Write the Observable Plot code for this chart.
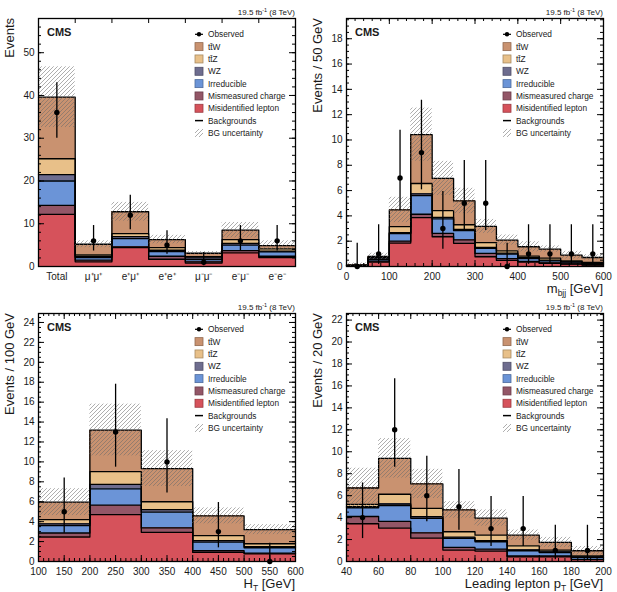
<!DOCTYPE html>
<html><head><meta charset="utf-8">
<script src="https://cdn.jsdelivr.net/npm/d3@7"></script>
<script src="https://cdn.jsdelivr.net/npm/@observablehq/plot@0.6"></script>
<style>
body{margin:0;background:#fff;font-family:"Liberation Sans",Arial,sans-serif;}
#root{position:relative;width:617px;height:592px;overflow:hidden;}
.panel{position:absolute;}
</style></head><body><div id="root"></div>
<script>
// ---------- shared ----------
const legendLabels = ["Observed","tt\u0304W","tt\u0304Z","WZ","Irreducible","Mismeasured charge","Misidentified lepton","Backgrounds","BG uncertainty"];
// stack order bottom -> top
const stackColors = ["#d6525b","#935667","#6b94d7","#6e6d8f","#e8c089","#c99270"];
const lumiText = ["19.5 fb","-1"," (8 TeV)"];
const expText = "CMS";

// ---------- panel 1: channels ----------
const chanLabels = ["Total","\u03bc\u207a\u03bc\u207a","e\u207a\u03bc\u207a","e\u207ae\u207a","\u03bc\u207b\u03bc\u207b","e\u207b\u03bc\u207b","e\u207be\u207b"];
const chanMisid  = [12.2, 1.1, 4.4, 1.7, 0.8, 3.2, 2.1];
const chanCharge = [2.1, 0.4, 0.2, 0.7, 0.3, 0.5, 0.3];
const chanIrred  = [5.7, 0.6, 1.9, 1.1, 0.5, 1.3, 1.0];
const chanWZ     = [1.5, 0.3, 0.5, 0.3, 0.4, 0.4, 0.2];
const chanTTZ    = [3.7, 0.3, 0.7, 0.6, 0.3, 0.9, 0.5];
const chanTTW    = [14.4, 2.5, 5.1, 1.9, 0.8, 2.2, 0.8];
const chanUnc    = [7.1, 0.8, 2.2, 1.0, 0.4, 1.8, 1.1];
const chanObs    = [36, 6, 12, 5, 1, 6, 6];
const chanObsLo  = [30.0, 3.62, 8.60, 2.84, 0.17, 3.62, 3.62];
const chanObsHi  = [43.0, 9.58, 16.65, 8.38, 3.30, 9.58, 9.58];

// ---------- panel 2: m_bjj ----------
const mbjjEdges  = [0,50,100,150,200,250,300,350,400,450,500,550,600];
const mbjjMisid  = [0.03,0.35,1.85,3.86,2.35,1.83,0.77,0.48,0.34,0.24,0.18,0.12];
const mbjjCharge = [0.01,0.08,0.15,0.27,0.27,0.27,0.26,0.14,0.06,0.04,0.02,0.02];
const mbjjIrred  = [0.02,0.12,0.60,1.47,1.14,0.73,0.40,0.36,0.23,0.17,0.14,0.10];
const mbjjWZ     = [0.01,0.05,0.07,0.14,0.13,0.10,0.07,0.07,0.07,0.05,0.03,0.03];
const mbjjTTZ    = [0.01,0.10,0.48,0.82,0.53,0.37,0.38,0.19,0.12,0.16,0.08,0.05];
const mbjjTTW    = [0.05,0.10,1.32,3.86,2.54,1.88,1.29,0.85,0.74,0.72,0.45,0.39];
const mbjjUnc    = [0.15,0.25,1.0,2.1,1.35,1.0,0.55,0.4,0.4,0.25,0.3,0.22];
const mbjjObs    = [0,1,7,9,3,5,5,0,1,1,1,1];
const mbjjObsLo  = [0,0.17,4.42,6.06,1.37,2.84,2.84,0,0.17,0.17,0.17,0.17];
const mbjjObsHi  = [1.84,3.30,10.77,13.14,5.92,8.38,8.38,1.84,3.30,3.30,3.30,3.30];

// ---------- panel 3: HT ----------
const htEdges  = [100,200,300,400,500,600];
const htMisid  = [2.46,4.71,2.93,0.91,0.77];
const htCharge = [0.40,0.95,0.44,0.17,0.07];
const htIrred  = [0.74,1.64,1.58,0.87,0.54];
const htWZ     = [0.17,0.44,0.25,0.15,0.10];
const htTTZ    = [0.43,1.28,0.80,0.50,0.30];
const htTTW    = [1.76,4.18,3.33,1.98,1.42];
const htUnc    = [1.35,2.6,1.8,0.8,0.5];
const htObs    = [5,13,10,3,0];
const htObsLo  = [2.84,9.47,6.89,1.37,0];
const htObsHi  = [8.38,17.80,14.33,5.92,1.84];

// ---------- panel 4: leading lepton pT ----------
const ptEdges  = [40,60,80,100,120,140,160,180,200];
const ptMisid  = [3.44,3.05,2.13,1.04,0.95,0.43,0.43,0.18];
const ptCharge = [0.66,0.61,0.47,0.24,0.18,0.07,0.07,0.02];
const ptIrred  = [0.80,1.44,1.33,0.82,0.67,0.48,0.32,0.17];
const ptWZ     = [0.10,0.14,0.15,0.12,0.10,0.07,0.06,0.05];
const ptTTZ    = [0.20,0.89,0.77,0.49,0.50,0.38,0.16,0.10];
const ptTTW    = [1.50,3.27,2.22,1.99,1.56,0.97,0.70,0.46];
const ptUnc    = [1.8,1.8,1.33,0.75,0.74,0.47,0.46,0.39];
const ptObs    = [4,12,6,5,3,3,1,1];
const ptObsLo  = [2.09,8.60,3.62,2.84,1.37,1.37,0.17,0.17];
const ptObsHi  = [7.16,16.65,9.58,8.38,5.92,5.92,3.30,3.30];

// ---------- axis settings ----------
const yTitles = ["Events","Events / 50 GeV","Events / 100 GeV","Events / 20 GeV"];
const xTitles = [null, ["m","bjj"," [GeV]"], ["H","T"," [GeV]"], ["Leading lepton p","T"," [GeV]"]];

const W = 309, H = 297, mL = 38, mR = 14, mT = 18, mB = 31;
const iw = W - mL - mR, ih = H - mT - mB;
const FONT = "'Liberation Sans', Arial, sans-serif";

function makePanel(cfg, idx) {
  const n = cfg.stack[0].length;
  const edges = cfg.edges;
  const cum = new Array(n).fill(0);
  const rectSets = [], lineSets = [];
  cfg.stack.forEach((vals) => {
    const rs = [], pts = [];
    for (let i = 0; i < n; i++) {
      const y1 = cum[i], y2 = cum[i] + vals[i];
      cum[i] = y2;
      rs.push({x1: edges[i], x2: edges[i + 1], y1, y2});
      pts.push({x: edges[i], y: y2});
    }
    pts.push({x: edges[n], y: cum[n - 1]});
    rectSets.push(rs); lineSets.push(pts);
  });
  const bins = d3.range(n).map(i => ({
    x1: edges[i], x2: edges[i + 1], xc: (edges[i] + edges[i + 1]) / 2,
    lo: cum[i] - cfg.unc[i], hi: cum[i] + cfg.unc[i],
    obs: cfg.obs[i], elo: cfg.obsLo[i], ehi: cfg.obsHi[i]
  }));
  const hid = "hatch" + idx;
  const marks = [];
  rectSets.forEach((rs, k) => marks.push(Plot.rect(rs, {x1: "x1", x2: "x2", y1: "y1", y2: "y2", fill: stackColors[k], shapeRendering: "crispEdges"})));
  lineSets.forEach(pts => marks.push(Plot.line(pts, {x: "x", y: "y", curve: "step-after", stroke: "#000", strokeWidth: 1.3})));
  marks.push(Plot.rect(bins, {x1: "x1", x2: "x2", y1: "lo", y2: "hi", fill: `url(#${hid})`}));
  marks.push(Plot.ruleX(bins, {x: "xc", y1: "elo", y2: "ehi", stroke: "#000", strokeWidth: 1.3}));
  marks.push(Plot.dot(bins, {x: "xc", y: "obs", r: 2.7, fill: "#000", stroke: null}));
  // inward ticks
  const tk = (arr, opts) => Plot.ruleY(arr, {stroke: "#000", strokeWidth: 1, ...opts});
  const tx = (arr, opts) => Plot.ruleX(arr, {stroke: "#000", strokeWidth: 1, ...opts});
  marks.push(tk(cfg.yMajor, {insetRight: iw - 6}), tk(cfg.yMajor, {insetLeft: iw - 6}));
  marks.push(tk(cfg.yMinor, {insetRight: iw - 3}), tk(cfg.yMinor, {insetLeft: iw - 3}));
  if (cfg.xMajor) {
    marks.push(tx(cfg.xMajor, {insetTop: ih - 6}), tx(cfg.xMajor, {insetBottom: ih - 6}));
    marks.push(tx(cfg.xMinor, {insetTop: ih - 3}), tx(cfg.xMinor, {insetBottom: ih - 3}));
    marks.push(Plot.axisX({ticks: cfg.xMajor, tickSize: 0, tickPadding: 6, label: null, tickFormat: d => String(d)}));
  } else {
    marks.push(tx(d3.range(1, n), {insetBottom: ih - 5}));
    marks.push(Plot.axisX({ticks: d3.range(n).map(i => i + 0.5), tickFormat: d => cfg.cats[Math.floor(d)], tickSize: 0, tickPadding: 6, label: null}));
  }
  marks.push(Plot.axisY({ticks: cfg.yMajor, tickSize: 0, tickPadding: 4, label: null, tickFormat: d => String(d)}));
  marks.push(Plot.frame({stroke: "#000", strokeWidth: 1.3}));

  const svg = Plot.plot({
    width: W, height: H, marginLeft: mL, marginRight: mR, marginTop: mT, marginBottom: mB,
    x: {domain: [edges[0], edges[n]]},
    y: {domain: [0, cfg.yMax]},
    style: {fontFamily: FONT, fontSize: "10px", color: "#1a1a1a", background: "transparent", overflow: "visible"},
    marks
  });
  const s = d3.select(svg);
  const defs = s.insert("defs", ":first-child");
  const pat = defs.append("pattern").attr("id", hid).attr("patternUnits", "userSpaceOnUse").attr("width", 4).attr("height", 4);
  pat.append("path").attr("d", "M-1,1 l2,-2 M0,4 l4,-4 M3,5 l2,-2").attr("stroke", "#6a6a6a").attr("stroke-width", 0.55);

  const g = s.append("g").attr("font-family", FONT).attr("fill", "#1a1a1a").attr("text-anchor", "start");
  // lumi
  const lt = g.append("text").attr("x", W - mR).attr("y", 14.5).attr("text-anchor", "end").attr("font-size", 8);
  lt.append("tspan").text(lumiText[0]);
  lt.append("tspan").attr("dy", -3).attr("font-size", 5.5).text(lumiText[1]);
  lt.append("tspan").attr("dy", 3).text(lumiText[2]);
  // CMS
  g.append("text").attr("x", mL + 9).attr("y", 36).attr("font-size", 11).attr("font-weight", "bold").text(expText);
  // y title
  g.append("text").attr("transform", `translate(13.5,${mT}) rotate(-90)`).attr("text-anchor", "end").attr("font-size", 13).text(cfg.yTitle);
  // x title
  if (cfg.xTitle) {
    const xt = g.append("text").attr("x", W - mR).attr("y", 293).attr("text-anchor", "end").attr("font-size", 13);
    xt.append("tspan").text(cfg.xTitle[0]);
    xt.append("tspan").attr("dy", 3).attr("font-size", 8.5).text(cfg.xTitle[1]);
    xt.append("tspan").attr("dy", -3).text(cfg.xTitle[2]);
  }
  // legend
  const lx = mL + 157, ly0 = 34.3, dy = 12.33;
  legendLabels.forEach((lab, i) => {
    const y = ly0 + i * dy;
    if (i === 0) {
      g.append("line").attr("x1", lx).attr("x2", lx + 8).attr("y1", y).attr("y2", y).attr("stroke", "#000").attr("stroke-width", 1.2);
      g.append("circle").attr("cx", lx + 4).attr("cy", y).attr("r", 2.2).attr("fill", "#000");
    } else if (i >= 1 && i <= 6) {
      const c = stackColors[6 - i];
      g.append("rect").attr("x", lx).attr("y", y - 4).attr("width", 8).attr("height", 8)
        .attr("fill", c).attr("stroke", d3.color(c).darker(0.9)).attr("stroke-width", 0.8);
    } else if (i === 7) {
      g.append("line").attr("x1", lx).attr("x2", lx + 8).attr("y1", y).attr("y2", y).attr("stroke", "#000").attr("stroke-width", 1.5);
    } else {
      g.append("rect").attr("x", lx).attr("y", y - 4).attr("width", 8).attr("height", 8).attr("fill", `url(#${hid})`);
    }
    g.append("text").attr("x", lx + 13).attr("y", y + 3).attr("font-size", 8.3).attr("text-anchor", "start").text(lab);
  });
  return svg;
}

const panels = [
  {cats: chanLabels, edges: d3.range(chanLabels.length + 1),
   stack: [chanMisid, chanCharge, chanIrred, chanWZ, chanTTZ, chanTTW],
   unc: chanUnc, obs: chanObs, obsLo: chanObsLo, obsHi: chanObsHi,
   yMax: 58, yMajor: [0,10,20,30,40,50], yMinor: d3.range(0, 58.01, 2)},
  {edges: mbjjEdges, stack: [mbjjMisid, mbjjCharge, mbjjIrred, mbjjWZ, mbjjTTZ, mbjjTTW],
   unc: mbjjUnc, obs: mbjjObs, obsLo: mbjjObsLo, obsHi: mbjjObsHi,
   yMax: 19.6, yMajor: [0,2,4,6,8,10,12,14,16,18], yMinor: d3.range(0, 19.6, 0.5),
   xMajor: [0,100,200,300,400,500,600], xMinor: d3.range(0, 600.1, 20)},
  {edges: htEdges, stack: [htMisid, htCharge, htIrred, htWZ, htTTZ, htTTW],
   unc: htUnc, obs: htObs, obsLo: htObsLo, obsHi: htObsHi,
   yMax: 24.9, yMajor: [0,2,4,6,8,10,12,14,16,18,20,22,24], yMinor: d3.range(0, 24.9, 0.5),
   xMajor: [100,150,200,250,300,350,400,450,500,550,600], xMinor: d3.range(100, 600.1, 10)},
  {edges: ptEdges, stack: [ptMisid, ptCharge, ptIrred, ptWZ, ptTTZ, ptTTW],
   unc: ptUnc, obs: ptObs, obsLo: ptObsLo, obsHi: ptObsHi,
   yMax: 22.6, yMajor: [0,2,4,6,8,10,12,14,16,18,20,22], yMinor: d3.range(0, 22.6, 0.5),
   xMajor: [40,60,80,100,120,140,160,180,200], xMinor: d3.range(40, 200.1, 4)}
];
const pos = [[0,0],[308,0],[0,295],[308,295]];
const root = document.getElementById("root");
panels.forEach((cfg, i) => {
  cfg.yTitle = yTitles[i]; cfg.xTitle = xTitles[i];
  const div = document.createElement("div");
  div.className = "panel";
  div.style.left = pos[i][0] + "px"; div.style.top = pos[i][1] + "px";
  div.appendChild(makePanel(cfg, i));
  root.appendChild(div);
});
</script></body></html>
